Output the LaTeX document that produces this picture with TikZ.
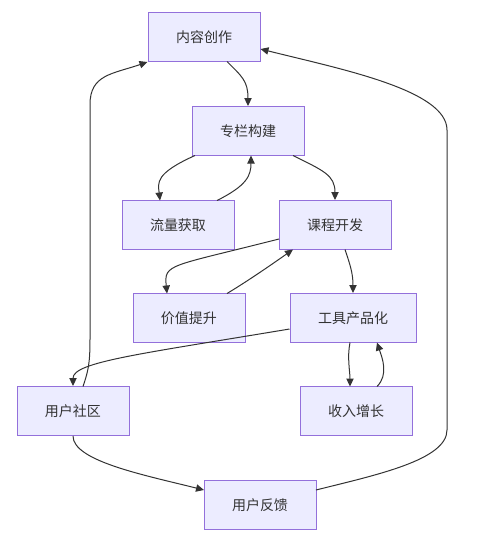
\documentclass[tikz,border=0pt]{standalone}
\usepackage{fontspec}
\newfontfamily\cjk{Noto Sans CJK SC}
\usepackage{tikz}
\usetikzlibrary{arrows.meta,calc}
\definecolor{ink}{HTML}{333333}
\definecolor{lilac}{HTML}{9370DB}
\definecolor{lilacpale}{HTML}{ECECFF}

\begin{document}
\begin{tikzpicture}[
  x=0.75pt,y=-0.75pt,
  every node/.style={font=\cjk\fontsize{10.5}{12}\selectfont,text=ink},
  stage/.style={rectangle,draw=lilac,fill=lilacpale,line width=0.75pt,minimum height=36.75pt,inner xsep=21pt,inner ysep=0pt},
  flow/.style={line width=0.75pt,color=ink,-{Triangle[length=6pt,width=5.5pt]}}
]
\useasboundingbox (0,0) rectangle (478,544);
\node[stage] (content) at (204,37) {内容创作};
\node[stage] (column) at (248,131) {专栏构建};
\node[stage] (traffic) at (178,225) {流量获取};
\node[stage] (course) at (335,225) {课程开发};
\node[stage] (value) at (189,318) {价值提升};
\node[stage] (tool) at (353,318) {工具产品化};
\node[stage] (community) at (73,411) {用户社区};
\node[stage] (revenue) at (356,411) {收入增长};
\node[stage] (feedback) at (260,505) {用户反馈};
% upper loop
\draw[flow] ($(content)+(23,24.5)$) .. controls +(15,15) and +(0,-25) .. (column.south |- column.north);
\draw[flow] ($(column)+(-53,24.5)$) .. controls +(-40,18) and +(-2,-18) .. ($(traffic)+(-18,-24.5)$);
\draw[flow] ($(traffic)+(39,-24.5)$) .. controls +(30,-15) and +(0,20) .. ($(column)+(3,24.5)$);
\draw[flow] ($(column)+(45,24.5)$) .. controls +(30,15) and +(0,-25) .. (course.north);
% middle
\draw[flow] ($(course)+(-56,14)$) .. controls +(-110,28) and +(-3,-30) .. ($(value)+(-22,-24.5)$);
\draw[flow] ($(value)+(38,-24.5)$) .. controls +(25,-15) and +(-10,7) .. ($(course)+(-42,24.5)$);
\draw[flow] ($(course)+(10,24.5)$) .. controls +(5,15) and +(0,-20) .. (tool.north);
\draw[flow] ($(tool)+(-63.5,11)$) .. controls (140,354) and (73,362) .. (community.north);
\draw[flow] ($(tool)+(-3,24.5)$) .. controls +(-3,15) and +(0,-15) .. ($(revenue)+(-6,-24.5)$);
\draw[flow] ($(revenue)+(21,-24.5)$) .. controls +(12,-12) and +(5,15) .. ($(tool)+(24,24.5)$);
% outer loop
\draw[flow] ($(community)+(10,-24.5)$) .. controls +(5,-15) and +(0,25) .. ++(7,-47)
  -- ++(0,-235) .. controls +(0,-30) and +(-35,12) .. (content.south west);
\draw[flow] (community.south) .. controls +(0,25) and +(-60,-15) .. ($(feedback)+(-56,-15)$);
\draw[flow] ($(feedback)+(56,-15)$) .. controls +(60,-15) and +(0,30) .. ++(131,-60)
  -- ++(0,-300) .. controls +(0,-40) and +(80,20) .. ($(content.east)+(0,12)$);
\end{tikzpicture}
\end{document}
